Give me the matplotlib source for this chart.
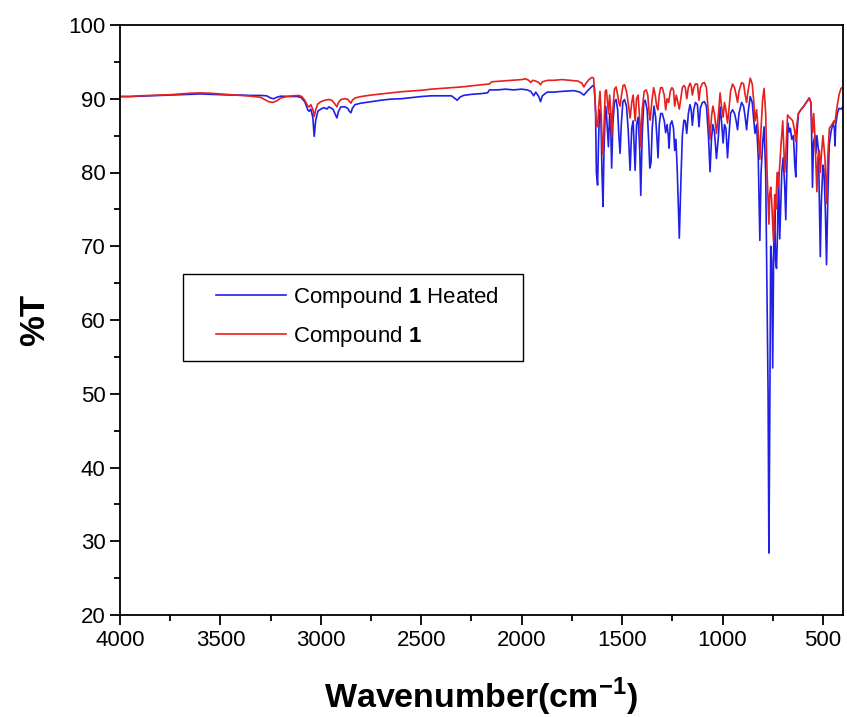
import matplotlib
matplotlib.use("Agg")
import matplotlib.pyplot as plt
from matplotlib.ticker import MultipleLocator
from matplotlib.patches import Rectangle

plt.rcParams['font.family'] = ['Liberation Sans', 'DejaVu Sans']
plt.rcParams['mathtext.fontset'] = 'custom'
plt.rcParams['mathtext.rm'] = 'Liberation Sans'
plt.rcParams['mathtext.bf'] = 'Liberation Sans:bold'

# (wavenumber cm-1, %T)
heated_points = [
    (4000, 90.3), (3950, 90.3), (3900, 90.35), (3850, 90.4), (3800, 90.45), (3750, 90.5),
    (3700, 90.55), (3650, 90.6), (3600, 90.65), (3550, 90.6), (3500, 90.55), (3450, 90.5),
    (3400, 90.5), (3350, 90.45), (3300, 90.45), (3270, 90.4), (3250, 90.1), (3235, 90.0),
    (3220, 90.2), (3200, 90.35), (3150, 90.3), (3120, 90.3), (3100, 90.2), (3080, 89.6),
    (3065, 88.5), (3058, 88.3), (3050, 88.6), (3040, 87.5), (3033, 84.9), (3026, 87.0),
    (3015, 88.3), (3000, 88.6), (2985, 88.8), (2970, 88.6), (2960, 88.9), (2940, 88.6),
    (2928, 87.9), (2920, 87.4), (2912, 88.3), (2900, 88.9), (2880, 88.9), (2866, 88.7),
    (2858, 88.3), (2850, 88.1), (2843, 88.7), (2830, 89.2), (2800, 89.4), (2750, 89.6),
    (2700, 89.8), (2650, 89.95), (2600, 90.0), (2550, 90.15), (2500, 90.3), (2450, 90.4),
    (2400, 90.4), (2350, 90.4), (2335, 90.1), (2321, 89.8), (2308, 90.2), (2290, 90.45),
    (2250, 90.6), (2200, 90.7), (2170, 90.8), (2160, 91.2), (2120, 91.2), (2080, 91.3),
    (2040, 91.2), (2000, 91.3), (1972, 91.2), (1955, 91.0), (1940, 90.4), (1930, 90.9),
    (1915, 90.3), (1906, 89.6), (1897, 90.4), (1873, 90.9), (1840, 90.9), (1800, 91.0),
    (1740, 91.1), (1710, 90.9), (1690, 90.5), (1675, 91.0), (1660, 91.4), (1645, 91.8),
    (1638, 91.6), (1632, 88.0), (1628, 80.0), (1622, 78.3), (1617, 84.5), (1612, 88.5),
    (1605, 87.0), (1600, 80.0), (1595, 75.4), (1590, 83.0), (1583, 89.0), (1578, 88.0),
    (1568, 83.5), (1562, 88.0), (1556, 85.5), (1552, 80.6), (1546, 86.5), (1538, 89.6),
    (1530, 89.9), (1522, 88.5), (1516, 85.0), (1510, 82.6), (1504, 86.5), (1496, 89.6),
    (1488, 89.9), (1478, 89.0), (1470, 86.0), (1460, 80.3), (1452, 86.0), (1445, 87.0),
    (1435, 80.3), (1428, 86.5), (1420, 87.5), (1412, 83.0), (1407, 76.9), (1400, 85.0),
    (1392, 89.5), (1385, 89.8), (1375, 88.5), (1367, 84.0), (1362, 80.6), (1356, 81.3),
    (1350, 86.0), (1341, 89.0), (1333, 87.5), (1326, 84.5), (1321, 82.0), (1315, 86.5),
    (1308, 88.0), (1300, 88.0), (1290, 87.0), (1283, 85.4), (1276, 86.5), (1270, 85.0),
    (1266, 83.3), (1260, 86.5), (1252, 87.0), (1244, 86.0), (1238, 83.0), (1232, 84.5),
    (1225, 80.0), (1215, 71.1), (1207, 79.0), (1200, 85.0), (1192, 87.1), (1185, 87.0),
    (1178, 85.3), (1170, 88.0), (1162, 89.2), (1156, 88.5), (1150, 86.4), (1143, 88.5),
    (1135, 89.5), (1125, 89.2), (1117, 86.2), (1110, 88.8), (1100, 89.5), (1090, 89.6),
    (1080, 89.0), (1070, 85.0), (1062, 80.1), (1055, 84.5), (1048, 86.5), (1040, 85.5),
    (1030, 81.9), (1020, 85.0), (1012, 88.9), (1005, 87.0), (997, 84.0), (990, 86.5),
    (983, 86.0), (975, 82.0), (968, 85.0), (960, 88.0), (950, 88.5), (940, 88.0),
    (932, 87.0), (925, 85.8), (918, 88.0), (905, 89.5), (895, 89.0), (887, 87.5),
    (880, 85.8), (873, 88.0), (862, 90.3), (852, 89.5), (844, 87.0), (838, 85.3),
    (830, 86.5), (822, 82.0), (814, 70.8), (808, 80.0), (800, 84.0), (793, 86.2),
    (785, 80.0), (778, 63.2), (773, 50.0), (769, 28.4), (765, 45.0), (760, 70.0),
    (755, 68.0), (750, 53.5), (745, 70.0), (740, 75.0), (736, 68.0), (731, 67.0),
    (726, 72.0), (721, 80.0), (715, 71.0), (705, 80.0), (698, 82.0), (690, 78.0),
    (685, 73.6), (680, 80.0), (674, 86.7), (668, 85.5), (662, 86.0), (655, 84.5),
    (647, 85.0), (640, 81.0), (635, 79.4), (630, 85.0), (622, 88.0), (610, 88.5),
    (595, 89.0), (580, 89.6), (568, 90.1), (560, 89.5), (556, 85.0), (552, 78.0),
    (547, 84.0), (540, 85.0), (535, 82.6), (530, 85.0), (522, 83.0), (517, 75.0),
    (513, 68.6), (508, 76.0), (500, 81.0), (495, 80.3), (488, 75.0), (482, 67.5),
    (476, 76.0), (469, 83.6), (460, 85.5), (450, 86.7), (443, 86.0), (440, 83.6),
    (436, 86.5), (428, 88.0), (420, 88.7), (410, 88.6), (400, 88.9),
]

compound_points = [
    (4000, 90.3), (3950, 90.3), (3900, 90.4), (3850, 90.45), (3800, 90.5), (3750, 90.55),
    (3700, 90.65), (3650, 90.75), (3600, 90.8), (3550, 90.75), (3500, 90.65), (3450, 90.55),
    (3400, 90.45), (3350, 90.35), (3300, 90.2), (3280, 89.9), (3260, 89.6), (3240, 89.5),
    (3220, 89.7), (3200, 90.1), (3170, 90.3), (3140, 90.4), (3110, 90.45), (3095, 90.3),
    (3080, 89.8), (3065, 89.0), (3058, 88.9), (3050, 89.2), (3040, 88.6), (3033, 87.6),
    (3026, 88.5), (3015, 89.3), (3000, 89.6), (2980, 89.8), (2960, 89.9), (2945, 89.8),
    (2930, 89.3), (2920, 88.9), (2912, 89.5), (2900, 89.9), (2880, 90.0), (2865, 89.9),
    (2857, 89.6), (2850, 89.4), (2843, 89.8), (2830, 90.1), (2800, 90.3), (2750, 90.5),
    (2700, 90.65), (2650, 90.8), (2600, 90.95), (2550, 91.05), (2500, 91.15), (2450, 91.3),
    (2400, 91.4), (2350, 91.5), (2300, 91.6), (2250, 91.75), (2200, 91.9), (2160, 92.0),
    (2150, 92.3), (2100, 92.4), (2050, 92.5), (2000, 92.6), (1980, 92.7), (1965, 92.5),
    (1955, 92.2), (1945, 92.5), (1930, 92.4), (1915, 92.2), (1906, 91.9), (1897, 92.3),
    (1870, 92.5), (1840, 92.5), (1800, 92.6), (1760, 92.5), (1720, 92.4), (1700, 92.1),
    (1690, 91.6), (1680, 92.1), (1665, 92.6), (1650, 92.9), (1642, 92.8), (1635, 90.0),
    (1628, 86.5), (1622, 86.2), (1616, 89.0), (1610, 91.0), (1604, 88.0), (1598, 83.0),
    (1595, 82.4), (1590, 86.0), (1584, 91.0), (1578, 91.2), (1568, 88.0), (1562, 90.5),
    (1556, 88.0), (1552, 84.8), (1546, 88.5), (1538, 91.3), (1530, 91.6), (1522, 90.5),
    (1516, 89.5), (1510, 89.0), (1503, 90.5), (1495, 91.8), (1488, 91.9), (1478, 91.0),
    (1470, 89.5), (1460, 87.4), (1452, 89.5), (1445, 90.5), (1435, 87.0), (1428, 90.0),
    (1420, 90.5), (1412, 87.0), (1407, 83.5), (1400, 88.5), (1390, 91.0), (1380, 91.2),
    (1372, 90.5), (1365, 88.0), (1360, 87.1), (1352, 89.5), (1343, 91.5), (1335, 90.5),
    (1328, 89.0), (1322, 88.5), (1315, 90.5), (1308, 91.5), (1300, 91.5), (1290, 90.5),
    (1283, 88.5), (1276, 90.0), (1268, 89.5), (1260, 91.0), (1252, 91.5), (1244, 91.2),
    (1238, 89.0), (1230, 90.5), (1222, 89.5), (1215, 88.6), (1208, 90.0), (1200, 91.5),
    (1192, 91.8), (1185, 91.5), (1178, 90.0), (1170, 91.5), (1162, 92.1), (1156, 91.8),
    (1150, 90.5), (1143, 91.5), (1135, 92.0), (1125, 92.0), (1117, 89.8), (1110, 91.5),
    (1100, 92.1), (1090, 92.2), (1080, 91.5), (1070, 88.0), (1062, 84.5), (1055, 87.5),
    (1048, 89.0), (1040, 88.0), (1030, 85.3), (1020, 88.0), (1012, 90.8), (1005, 89.0),
    (997, 87.5), (990, 89.5), (983, 88.5), (975, 86.7), (968, 88.5), (960, 91.0),
    (950, 92.0), (940, 91.5), (932, 90.5), (925, 89.5), (918, 91.0), (905, 92.2),
    (895, 92.0), (887, 90.5), (880, 89.5), (873, 91.0), (862, 92.8), (852, 92.0),
    (844, 89.5), (838, 87.0), (830, 88.5), (822, 85.5), (814, 81.8), (808, 86.0),
    (800, 90.0), (793, 91.4), (785, 88.0), (778, 80.0), (773, 76.0), (769, 73.0),
    (765, 77.0), (760, 78.0), (755, 76.0), (746, 70.6), (740, 77.0), (735, 75.0),
    (728, 80.0), (722, 78.0), (715, 81.0), (708, 84.0), (700, 87.0), (690, 80.0),
    (684, 83.0), (676, 87.8), (668, 87.5), (660, 87.3), (650, 87.0), (640, 85.5),
    (635, 84.2), (630, 86.5), (622, 88.0), (610, 88.5), (595, 89.0), (580, 89.6),
    (568, 90.1), (560, 89.5), (556, 87.0), (552, 85.4), (546, 88.0), (540, 85.0),
    (530, 77.4), (525, 82.0), (518, 83.0), (513, 80.0), (506, 83.0), (500, 85.0),
    (490, 82.0), (482, 75.8), (476, 82.0), (468, 86.0), (455, 86.5), (445, 87.0),
    (440, 86.7), (432, 88.5), (420, 90.5), (410, 91.4), (400, 91.6),
]

series_labels = [r'Compound $\mathbf{1}$ Heated', r'Compound $\mathbf{1}$']
series_colors = ['#1f1fe6', '#e61f1f']

x_major_ticks = [4000, 3500, 3000, 2500, 2000, 1500, 1000, 500]
y_major_ticks = [20, 30, 40, 50, 60, 70, 80, 90, 100]

W, H = 847, 717
fig = plt.figure(figsize=(W / 100, H / 100), dpi=100)
ax = fig.add_axes([120 / W, 102 / H, 723 / W, 590 / H])

for pts, lab, col in zip([heated_points, compound_points], series_labels, series_colors):
    xs = [p[0] for p in pts]
    ys = [p[1] for p in pts]
    ax.plot(xs, ys, color=col, lw=1.2, label=lab)

ax.set_xlim(4000, 400)
ax.set_ylim(20, 100)
ax.set_xticks(x_major_ticks)
ax.set_yticks(y_major_ticks)
ax.xaxis.set_minor_locator(MultipleLocator(250))
ax.yaxis.set_minor_locator(MultipleLocator(5))
ax.tick_params(which='both', direction='out', top=False, right=False, width=1.3, labelsize=16)
ax.tick_params(which='major', length=7)
ax.tick_params(which='minor', length=4)
for s in ax.spines.values():
    s.set_linewidth(1.3)

ax.set_xlabel(r'Wavenumber(cm$^{\mathbf{-1}}$)', fontsize=24.5, fontweight='bold', labelpad=18)
ax.set_ylabel('%T', fontsize=25, fontweight='bold', labelpad=12)

# legend frame (decoration) drawn separately so padding can match the reference
frame = Rectangle((183 / W, 1 - 361 / H), 340 / W, 87 / H, transform=fig.transFigure,
                  facecolor='white', edgecolor='black', lw=1.0, zorder=4, clip_on=False)
ax.add_patch(frame)

leg = ax.legend(loc='upper left', bbox_to_anchor=(216 / W, 1 - 285 / H),
                bbox_transform=fig.transFigure, fontsize=16,
                frameon=False, handlelength=3.15, handletextpad=0.32, borderpad=0,
                labelspacing=0.62, borderaxespad=0)
leg.set_zorder(5)

fig.savefig('out.png', dpi=100)
